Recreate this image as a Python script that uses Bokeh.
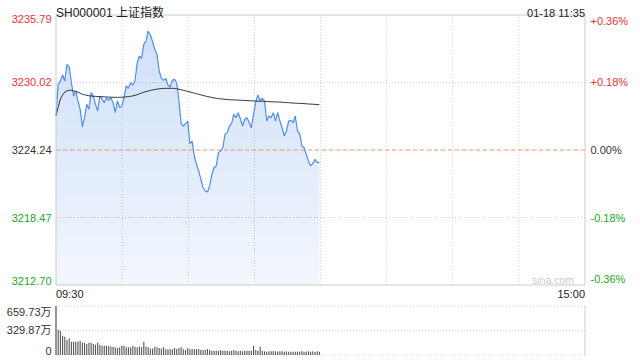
import numpy as np
from bokeh.plotting import figure
from bokeh.models import Range1d
from bokeh.core.properties import value
from bokeh.embed import file_html
from bokeh.resources import INLINE

# ---------------- data ----------------
title_text = "SH000001 上证指数"
stamp_text = "01-18 11:35"
watermark = "sina.com"
prev_close = 3224.24
price_ticks = [3212.70, 3218.47, 3224.24, 3230.02, 3235.79]
pct_labels = ["-0.36%", "-0.18%", "0.00%", "+0.18%", "+0.36%"]
time_labels = ["09:30", "15:00"]
vol_ticks = [0, 329.87, 659.73]
vol_labels = ["0", "329.87万", "659.73万"]
session_slots = 241  # 09:30-11:30 + 13:00-15:00, one slot per minute

price = [
    3227.15, 3229.86, 3230.15, 3230.66, 3230.15, 3231.57, 3231.34, 3230.00, 3228.86, 3229.29,
    3228.44, 3227.72, 3226.21, 3227.01, 3228.15, 3227.72, 3229.15, 3228.86, 3228.15, 3227.58,
    3228.86, 3228.60, 3228.29, 3228.72, 3228.49, 3228.72, 3228.29, 3227.44, 3228.44, 3227.87,
    3228.01, 3228.72, 3229.72, 3229.52, 3230.00, 3229.80, 3230.15, 3231.71, 3232.28, 3232.08,
    3233.28, 3233.57, 3234.42, 3234.08, 3233.50, 3232.85, 3232.43, 3231.00, 3230.37, 3230.20,
    3230.37, 3229.80, 3229.63, 3230.20, 3230.29, 3230.00, 3228.44, 3226.50, 3226.30, 3226.50,
    3226.72, 3224.79, 3225.00, 3223.73, 3223.02, 3222.45, 3221.74, 3221.02, 3220.74, 3220.65,
    3221.17, 3222.16, 3222.73, 3222.88, 3224.02, 3224.16, 3224.44, 3225.59, 3225.73, 3226.30,
    3226.50, 3227.30, 3227.01, 3227.44, 3226.90, 3226.30, 3226.87, 3227.01, 3226.60, 3226.15,
    3227.30, 3228.35, 3228.95, 3228.44, 3228.66, 3228.44, 3226.72, 3227.15, 3227.01, 3227.44,
    3226.72, 3227.44, 3226.72, 3226.15, 3225.44, 3225.87, 3226.72, 3226.78, 3226.58, 3227.15,
    3225.87, 3225.64, 3224.59, 3224.44, 3223.88, 3223.30, 3222.88, 3223.08, 3223.45, 3223.16,
    3223.19,
]

avg_price = [
    3227.15, 3227.90, 3228.60, 3228.95, 3229.20, 3229.30, 3229.35, 3229.35, 3229.30, 3229.25,
    3229.20, 3229.10, 3229.02, 3228.97, 3228.92, 3228.88, 3228.86, 3228.84, 3228.83, 3228.82,
    3228.81, 3228.80, 3228.79, 3228.78, 3228.77, 3228.76, 3228.75, 3228.75, 3228.75, 3228.75,
    3228.76, 3228.77, 3228.79, 3228.81, 3228.84, 3228.87, 3228.92, 3228.98, 3229.05, 3229.12,
    3229.18, 3229.24, 3229.29, 3229.34, 3229.38, 3229.42, 3229.45, 3229.48, 3229.50, 3229.51,
    3229.52, 3229.52, 3229.52, 3229.52, 3229.51, 3229.48, 3229.44, 3229.40, 3229.35, 3229.30,
    3229.26, 3229.21, 3229.16, 3229.11, 3229.06, 3229.01, 3228.96, 3228.91, 3228.86, 3228.82,
    3228.78, 3228.74, 3228.70, 3228.67, 3228.64, 3228.62, 3228.60, 3228.58, 3228.56, 3228.55,
    3228.54, 3228.53, 3228.52, 3228.51, 3228.50, 3228.49, 3228.48, 3228.47, 3228.46, 3228.45,
    3228.44, 3228.43, 3228.42, 3228.42, 3228.41, 3228.40, 3228.39, 3228.38, 3228.37, 3228.36,
    3228.36, 3228.35, 3228.34, 3228.33, 3228.31, 3228.30, 3228.29, 3228.27, 3228.26, 3228.25,
    3228.24, 3228.23, 3228.22, 3228.21, 3228.20, 3228.18, 3228.17, 3228.16, 3228.15, 3228.13,
    3228.12,
]

# volume in 万
volume = [
    659.73, 339, 326, 259, 245, 201, 227, 178, 178, 178,
    183, 192, 169, 161, 147, 165, 165, 147, 138, 165,
    138, 125, 125, 125, 125, 116, 111, 103, 94, 103,
    125, 125, 103, 103, 103, 125, 111, 103, 116, 103,
    178, 116, 103, 89, 89, 111, 103, 94, 89, 103,
    76, 76, 76, 76, 94, 80, 94, 103, 76, 67,
    94, 76, 80, 76, 76, 80, 67, 67, 67, 80,
    67, 58, 58, 58, 58, 67, 58, 58, 58, 49,
    58, 67, 58, 49, 58, 49, 58, 58, 58, 58,
    125, 67, 58, 111, 58, 49, 45, 49, 49, 54,
    49, 45, 49, 49, 45, 49, 45, 45, 45, 45,
    45, 45, 49, 45, 45, 49, 45, 49, 40, 49,
    45,
]

minute = list(range(len(price)))

# ---------------- layout constants (pixels) ----------------
FONT = value("'Liberation Sans', 'Noto Sans CJK SC', sans-serif")
RED = "#f03030"
GREEN = "#22a822"
DARK = "#333333"
GRID = "#cfcfcf"
BORDER = "#cccccc"
W, H = 640, 360
LEFT, RIGHT = 55.5, 584.5        # price/volume panel left & right edge
P_TOP, P_BOT = 14.5, 284.5       # price panel
V_TOP, V_BOT = 305.5, 354.5      # volume panel

lo, hi = price_ticks[0], price_ticks[-1]
vmax = vol_ticks[-1]
xpx = session_slots / (RIGHT - LEFT)
ypx = (hi - lo) / (P_BOT - P_TOP)
vpx = vmax / (V_BOT - V_TOP)

p = figure(width=W, height=H, output_backend="svg", toolbar_location=None,
           x_range=Range1d(-LEFT * xpx, session_slots + (W - RIGHT) * xpx),
           y_range=Range1d(lo - (H - P_BOT) * ypx, hi + P_TOP * ypx),
           x_axis_location=None, y_axis_location=None,
           min_border=0, min_border_left=0, min_border_right=0,
           min_border_top=0, min_border_bottom=0)
p.extra_y_ranges = {"vol": Range1d(-(H - V_BOT) * vpx, vmax + V_TOP * vpx)}
p.outline_line_color = None
p.grid.grid_line_color = None
p.background_fill_color = "white"
p.border_fill_color = "white"

# ---- price panel grid ----
vgrid = [session_slots * k / 8 for k in range(1, 8)]
p.segment(x0=vgrid, x1=vgrid, y0=lo, y1=hi, line_color=GRID, line_dash="1 2", line_width=1)
inner = price_ticks[1:-1]
p.segment(x0=0, x1=session_slots, y0=inner, y1=inner, line_color=GRID, line_dash="1 2", line_width=1)

# gradient-like fill under price line, built from horizontal bands
x = np.array(minute, dtype=float)
pr = np.array(price)
nb = 45
edges = np.linspace(lo, hi, nb + 1)
for k in range(nb):
    b, t = edges[k], edges[k + 1]
    top = np.clip(pr, b, t)
    alpha = 0.07 + 0.21 * (k + 0.5) / nb
    p.varea(x=x, y1=np.full_like(x, b), y2=top, fill_color="#4d8ae8", fill_alpha=alpha)

# previous close reference line
p.segment(x0=0, x1=session_slots, y0=prev_close, y1=prev_close, line_color="#f0a070",
          line_dash="4 3", line_width=1)

p.line(x, price, line_color="#4f8cf0", line_width=1.2)
p.line(x, avg_price, line_color="#333333", line_width=1)

# frame border
p.quad(left=0, right=session_slots, bottom=lo, top=hi, fill_color=None, line_color=BORDER, line_width=1)

# ---- price labels ----
colors = [RED if v > prev_close else (GREEN if v < prev_close else DARK) for v in price_ticks]
bases = ["top" if v == hi else ("bottom" if v == lo else "middle") for v in price_ticks]
# nudge top/bottom labels to sit inside the panel edges
p.text(x=[-4.5 * xpx] * len(price_ticks), y=price_ticks, text=[f"{v:.2f}" for v in price_ticks],
       text_color=colors, text_align="right", text_baseline=bases,
       text_font=FONT, text_font_size="11px")
p.text(x=[session_slots + 5.5 * xpx] * len(price_ticks), y=price_ticks, text=pct_labels,
       text_color=colors, text_align="left", text_baseline=bases,
       text_font=FONT, text_font_size="11px")

p.text(x=[0], y=[hi + 2.5 * ypx], text=[title_text], text_color="#222222", text_align="left",
       text_baseline="alphabetic", text_font=FONT, text_font_size="12px")
p.text(x=[session_slots], y=[hi + 2.5 * ypx], text=[stamp_text], text_color="#222222",
       text_align="right", text_baseline="alphabetic", text_font=FONT, text_font_size="11px")
p.text(x=[0, session_slots], y=[lo - 8.5 * ypx] * 2, text=time_labels, text_color="#222222",
       text_align=["left", "right"], text_baseline="middle", text_font=FONT, text_font_size="11px")
p.text(x=[session_slots - 11 * xpx], y=[lo + 5.5 * ypx], text=[watermark], text_color="#cccccc",
       text_align="right", text_baseline="middle", text_font=FONT, text_font_size="10.5px")

# ---- volume panel ----
p.segment(x0=0, x1=session_slots, y0=vol_ticks, y1=vol_ticks, line_color=GRID, line_dash="1 2",
          line_width=1, y_range_name="vol")
p.segment(x0=[0, session_slots], x1=[0, session_slots], y0=0, y1=vmax, line_color=BORDER,
          line_width=1, y_range_name="vol")
p.vbar(x=minute, top=volume, bottom=0, width=0.5, fill_color="#555555", line_color=None,
       y_range_name="vol")
vbases = ["top" if v == vmax else ("bottom" if v == 0 else "middle") for v in vol_ticks]
p.text(x=[-4.5 * xpx] * len(vol_ticks), y=vol_ticks, text=vol_labels, text_color=DARK,
       text_align="right", text_baseline=vbases, text_font=FONT, text_font_size="11px",
       y_range_name="vol")

open("out.html", "w").write(file_html(p, INLINE))
